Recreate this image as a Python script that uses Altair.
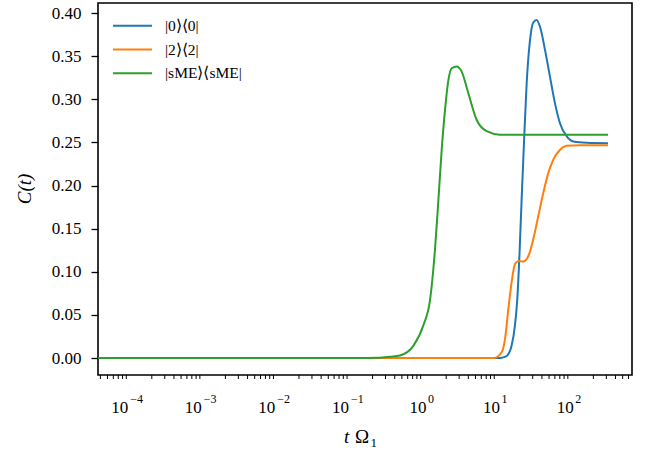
import altair as alt
import pandas as pd

SERIF = "Liberation Serif"

# Series: population C(t) of each projector versus dimensionless time t*Omega_1
series_names = ["|0⟩⟨0|", "|2⟩⟨2|", "|sME⟩⟨sME|"]
series_colors = ["#1f77b4", "#ff7f0e", "#2ca02c"]

t_p0 = [3.715e-5, 10.0, 11.5, 13.3, 15.5, 17.2, 18.5, 19.7, 21.2, 22.9, 24.8, 27.5,
        30.5, 33.9, 37.7, 44.1, 51.5, 60.3, 70.5, 87.1, 107.0, 162.0, 316.0]
c_p0 = [0.0, 0.0, 0.0005, 0.0025, 0.0145, 0.038, 0.068, 0.115, 0.184, 0.253, 0.318, 0.368,
        0.389, 0.392, 0.384, 0.357, 0.326, 0.295, 0.272, 0.257, 0.251, 0.2495, 0.249]

t_p2 = [3.715e-5, 8.9, 11.4, 12.6, 14.0, 15.5, 17.2, 19.1, 22.3, 26.1, 30.5, 35.7,
        41.8, 48.9, 57.1, 70.5, 87.1, 132.0, 316.0]
c_p2 = [0.0, 0.0, 0.007, 0.022, 0.057, 0.088, 0.109, 0.1125, 0.112, 0.118, 0.1377, 0.1646,
        0.1916, 0.2147, 0.230, 0.2415, 0.246, 0.2467, 0.2467]

t_sme = [3.715e-5, 0.1, 0.25, 0.35, 0.47, 0.72, 0.98, 1.21, 1.41, 1.57, 1.74, 1.93,
         2.14, 2.38, 2.78, 3.25, 4.0, 5.2, 7.1, 10.7, 316.0]
c_sme = [0.0, 0.0, 0.0005, 0.0015, 0.003, 0.0145, 0.038, 0.068, 0.126, 0.184, 0.242, 0.288,
         0.322, 0.336, 0.338, 0.332, 0.307, 0.276, 0.263, 0.259, 0.259]

# Axis ticks
x_major = [1e-4, 1e-3, 1e-2, 1e-1, 1e0, 1e1, 1e2]
x_exponents = ["−4", "−3", "−2", "−1", "0", "1", "2"]
x_minor = [m * 10.0 ** k for k in range(-5, 3) for m in range(2, 10)
           if 3.715e-5 < m * 10.0 ** k < 669.9]
y_ticks = [0.0, 0.05, 0.10, 0.15, 0.20, 0.25, 0.30, 0.35, 0.40]

rows = []
for name, ts, cs in zip(series_names, [t_p0, t_p2, t_sme], [c_p0, c_p2, c_sme]):
    rows += [{"t": t, "C": c, "state": name} for t, c in zip(ts, cs)]
df = pd.DataFrame(rows)

W, H = 534, 372
xscale = alt.Scale(type="log", domain=[3.715e-5, 669.9], nice=False)
yscale = alt.Scale(domain=[-0.0196, 0.4116], nice=False, zero=False)

lines = alt.Chart(df).mark_line(strokeWidth=2, interpolate="monotone", clip=True).encode(
    x=alt.X("t:Q", scale=xscale,
            axis=alt.Axis(values=x_major, tickSize=7, tickWidth=1.3, tickColor="black",
                          labels=False, domain=False, grid=False, title=None)),
    y=alt.Y("C:Q", scale=yscale,
            axis=alt.Axis(values=y_ticks, format=".2f", tickSize=7, tickWidth=1.3,
                          tickColor="black", labelFont=SERIF, labelFontSize=17,
                          labelColor="black", labelPadding=10, domain=False,
                          grid=False, title=None)),
    color=alt.Color("state:N", scale=alt.Scale(domain=series_names, range=series_colors),
                    legend=None),
)

minor = alt.Chart(pd.DataFrame({"t": x_minor})).mark_rule(color="black", strokeWidth=1).encode(
    x=alt.X("t:Q", scale=xscale, axis=None),
    y=alt.value(H), y2=alt.value(H + 4),
)

labels_df = pd.DataFrame({"t": x_major, "exp": x_exponents,
                          "neg": [e.startswith("−") for e in x_exponents]})
label_layers = []
for is_neg, dx_base, dx_exp in [(True, -1.5, 0.5), (False, 2.5, 4.0)]:
    part = labels_df[labels_df["neg"] == is_neg]
    label_layers.append(
        alt.Chart(part).mark_text(text="10", align="right", baseline="alphabetic", dx=dx_base,
                                  font=SERIF, fontSize=17, color="black").encode(
            x=alt.X("t:Q", scale=xscale, axis=None), y=alt.value(H + 38)))
    label_layers.append(
        alt.Chart(part).mark_text(align="left", baseline="alphabetic", dx=dx_exp,
                                  font=SERIF, fontSize=12, color="black").encode(
            x=alt.X("t:Q", scale=xscale, axis=None), y=alt.value(H + 28),
            text="exp:N"))

# Axis titles
one = pd.DataFrame({"k": [0]})
ytitle = alt.Chart(one).mark_text(text="C(t)", angle=270, align="center", baseline="middle",
                                  font=SERIF, fontSize=19, fontStyle="italic",
                                  color="black").encode(x=alt.value(-73), y=alt.value(186))
xt_t = alt.Chart(one).mark_text(text="t", align="left", baseline="alphabetic", font=SERIF,
                                fontSize=19, fontStyle="italic", color="black").encode(
    x=alt.value(246), y=alt.value(440))
xt_omega = alt.Chart(one).mark_text(text="Ω", align="left", baseline="alphabetic", font=SERIF,
                                    fontSize=19, color="black").encode(
    x=alt.value(257), y=alt.value(440))
xt_sub = alt.Chart(one).mark_text(text="1", align="left", baseline="alphabetic", font=SERIF,
                                  fontSize=13, color="black").encode(
    x=alt.value(272.5), y=alt.value(443.5))

# Legend drawn in the upper-left corner of the plot
legend_layers = []
for i, (name, col) in enumerate(zip(series_names, series_colors)):
    ypos = 22.7 + 23.8 * i
    legend_layers.append(
        alt.Chart(one).mark_rule(color=col, strokeWidth=2).encode(
            x=alt.value(15), x2=alt.value(54), y=alt.value(ypos)))
    legend_layers.append(
        alt.Chart(one).mark_text(text=name, align="left", baseline="middle", font=SERIF,
                                 fontSize=15.5, color="black").encode(
            x=alt.value(67), y=alt.value(ypos)))

chart = alt.layer(
    lines, minor, *label_layers, ytitle, xt_t, xt_omega, xt_sub, *legend_layers
).properties(
    width=W, height=H,
    autosize=alt.AutoSizeParams(type="none"),
    padding={"left": 98, "top": 3, "right": 25, "bottom": 85},
    background="white",
).configure_view(stroke="black", strokeWidth=1.6)

chart.save("out.html", embed_options={"renderer": "svg", "actions": False})
